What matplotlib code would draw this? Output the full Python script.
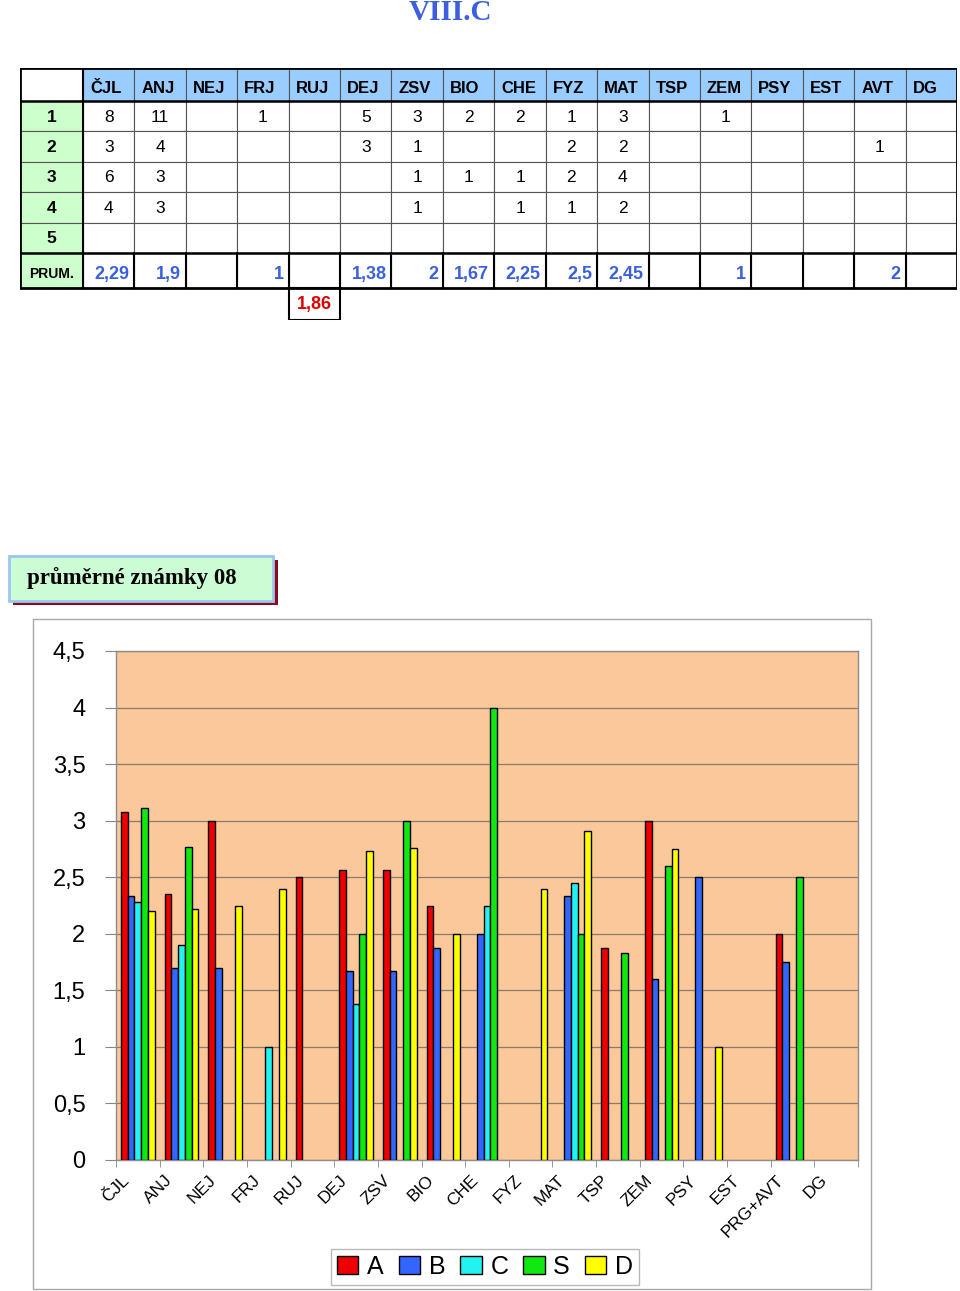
import numpy as np
import matplotlib.pyplot as plt
from matplotlib.patches import Rectangle
from matplotlib.transforms import ScaledTranslation

W, H = 960, 1291
plt.rcParams['font.family'] = ['Liberation Sans', 'DejaVu Sans']

# --- tabulka znamek ---
subjects = ['ČJL', 'ANJ', 'NEJ', 'FRJ', 'RUJ', 'DEJ', 'ZSV', 'BIO', 'CHE',
            'FYZ', 'MAT', 'TSP', 'ZEM', 'PSY', 'EST', 'AVT', 'DG']
grade_labels = ['1', '2', '3', '4', '5']
row1 = [8, 11, None, 1, None, 5, 3, 2, 2, 1, 3, None, 1, None, None, None, None]
row2 = [3, 4, None, None, None, 3, 1, None, None, 2, 2, None, None, None, None, 1, None]
row3 = [6, 3, None, None, None, None, 1, 1, 1, 2, 4, None, None, None, None, None, None]
row4 = [4, 3, None, None, None, None, 1, None, 1, 1, 2, None, None, None, None, None, None]
row5 = [None] * 17
prum = ['2,29', '1,9', '', '1', '', '1,38', '2', '1,67', '2,25', '2,5', '2,45',
        '', '1', '', '', '2', '']
total_avg = '1,86'

# --- graf prumernych znamek ---
categories = ['ČJL', 'ANJ', 'NEJ', 'FRJ', 'RUJ', 'DEJ', 'ZSV', 'BIO', 'CHE',
              'FYZ', 'MAT', 'TSP', 'ZEM', 'PSY', 'EST', 'PRG+AVT', 'DG']
nan = np.nan
avg_A = [3.08, 2.35, 3.0, nan, 2.5, 2.56, 2.56, 2.25, nan, nan, nan, 1.87, 3.0, nan, nan, 2.0, nan]
avg_B = [2.33, 1.7, 1.7, nan, nan, 1.67, 1.67, 1.87, 2.0, nan, 2.33, nan, 1.6, 2.5, nan, 1.75, nan]
avg_C = [2.28, 1.9, nan, 1.0, nan, 1.38, nan, nan, 2.25, nan, 2.45, nan, nan, nan, nan, nan, nan]
avg_S = [3.11, 2.77, nan, nan, nan, 2.0, 3.0, nan, 4.0, nan, 2.0, 1.83, 2.6, nan, nan, 2.5, nan]
avg_D = [2.2, 2.22, 2.25, 2.4, nan, 2.73, 2.76, 2.0, nan, 2.4, 2.91, nan, 2.75, 1.0, nan, nan, nan]
class_names = ['A', 'B', 'C', 'S', 'D']
class_colors = ['#ee0000', '#3366ff', '#22f2f2', '#11e811', '#ffff00']


def box(x0, y0, x1, y1):
    # pixely (odshora) -> souradnice figury
    return [x0 / W, 1 - y1 / H, (x1 - x0) / W, (y1 - y0) / H]


fig = plt.figure(figsize=(W / 100, H / 100), dpi=100)

fig.text(450 / W, 1 - 13 / H, 'VIII.C', ha='center', va='center', fontsize=21,
         fontweight='bold', color='#3a5fe0', family='Liberation Serif')

# tabulka
tax = fig.add_axes(box(20, 68, 957, 320))
tax.set_xlim(0, 937)
tax.set_ylim(252, 0)
tax.axis('off')

col_w = [63] + [874 / 17] * 17
col_x = np.concatenate([[0], np.cumsum(col_w)])
row_h = [33] + [30.4] * 5 + [35]
row_y = np.concatenate([[0], np.cumsum(row_h)])
body = [row1, row2, row3, row4, row5]
blue_txt = '#3a5fe0'

for r in range(len(row_h)):
    for c in range(len(col_w)):
        if r == 0 and c > 0:
            fc = '#99ccff'
        elif c == 0 and r > 0:
            fc = '#ccffcc'
        else:
            fc = 'white'
        tax.add_patch(Rectangle((col_x[c], row_y[r]), col_w[c], row_h[r],
                                fc=fc, ec='#555555', lw=0.8))
        yc = row_y[r] + row_h[r] / 2 + 1
        if r == 0 and c > 0:
            tax.text(col_x[c] + 7, yc + 3, subjects[c - 1], ha='left', va='center',
                     fontsize=12, fontweight='bold')
        elif c == 0 and 1 <= r <= 5:
            tax.text(col_x[c] + col_w[c] / 2, yc, grade_labels[r - 1], ha='center',
                     va='center', fontsize=12.5, fontweight='bold')
        elif c == 0 and r == 6:
            tax.text(col_x[c] + col_w[c] / 2, yc + 3, 'PRUM.', ha='center',
                     va='center', fontsize=10, fontweight='bold')
        elif 1 <= r <= 5:
            v = body[r - 1][c - 1]
            if v is not None:
                tax.text(col_x[c] + col_w[c] / 2, yc, str(v), ha='center',
                         va='center', fontsize=12.5)
        elif r == 6 and c > 0:
            tax.text(col_x[c + 1] - 5, yc + 3, prum[c - 1], ha='right', va='center',
                     fontsize=13, fontweight='bold', color=blue_txt)

# silnejsi ohraniceni
tax.add_patch(Rectangle((0, 0), col_x[-1], row_y[-1], fill=False, ec='black', lw=2))
tax.plot([0, col_x[-1]], [row_y[1], row_y[1]], color='black', lw=1.8)
tax.plot([0, col_x[-1]], [row_y[6], row_y[6]], color='black', lw=1.8)
tax.plot([col_x[1], col_x[1]], [0, row_y[-1]], color='black', lw=1.5)
for c in range(2, len(col_x) - 1):
    tax.plot([col_x[c], col_x[c]], [row_y[6], row_y[7]], color='black', lw=1.5)
ruj = subjects.index('RUJ') + 1
tax.add_patch(Rectangle((col_x[ruj], row_y[-1]), col_w[ruj], 32, fill=False,
                        ec='black', lw=1.5))
tax.text(col_x[ruj] + col_w[ruj] / 2, row_y[-1] + 17, total_avg, ha='center',
         va='center', fontsize=13, fontweight='bold', color='#dd0000')

# nadpis grafu v ramecku
fig.add_artist(Rectangle((13 / W, 1 - 605 / H), 265 / W, 45 / H,
                         transform=fig.transFigure, fc='#8b0a20', ec='none'))
fig.add_artist(Rectangle((9 / W, 1 - 601 / H), 264 / W, 45 / H,
                         transform=fig.transFigure, fc='#ccfcd4', ec='#9cc8f0', lw=2))
fig.text(27 / W, 1 - 578 / H, 'průměrné známky 08', ha='left', va='center',
         fontsize=16.5, fontweight='bold', family='Liberation Serif')

# ramecek grafu
fig.add_artist(Rectangle((33 / W, 1 - 1289 / H), 838 / W, 670 / H,
                         transform=fig.transFigure, fill=False, ec='#a8a8a8', lw=1))

ax = fig.add_axes(box(116, 651, 858, 1160))
ax.set_facecolor('#fbc899')
x = np.arange(len(categories))
bw = 0.154
handles = []
for i, (vals, name, col) in enumerate(zip([avg_A, avg_B, avg_C, avg_S, avg_D],
                                          class_names, class_colors)):
    vals = np.array(vals, dtype=float)
    ok = ~np.isnan(vals)
    b = ax.bar(x[ok] + 0.5 + (i - 2) * bw, vals[ok], width=bw, color=col,
               edgecolor='black', linewidth=1, zorder=3, label=name)
    handles.append(b)

ax.set_xlim(0, len(categories))
ax.set_ylim(0, 4.5)
yt = np.arange(0, 4.51, 0.5)
ax.set_yticks(yt)
ax.set_yticklabels([('%g' % v).replace('.', ',') for v in yt], fontsize=17)
ax.yaxis.grid(True, color='#8c7a6a', lw=0.9, zorder=0)
ax.set_axisbelow(True)
ax.tick_params(axis='y', direction='out', length=8, color='#888888', pad=14)
ax.set_xticks(x + 0.5)
ax.set_xticklabels(categories, rotation=45, ha='right', va='top',
                   rotation_mode='anchor', fontsize=12.5)
ax.tick_params(axis='x', length=0, pad=9)
shift = ScaledTranslation(-12 / 72, 0, fig.dpi_scale_trans)
for lab in ax.get_xticklabels():
    lab.set_transform(lab.get_transform() + shift)
ax.set_xticks(np.arange(len(categories) + 1), minor=True)
ax.tick_params(axis='x', which='minor', direction='out', length=5, color='#888888')
for s in ax.spines.values():
    s.set_color('#8c8c8c')
    s.set_linewidth(1)

fig.legend(handles=handles, labels=class_names, loc='center',
           bbox_to_anchor=(485 / W, 1 - 1267 / H), ncol=5, frameon=True,
           fancybox=False, edgecolor='#a8a8a8', fontsize=18, handlelength=0.85,
           handleheight=0.75, handletextpad=0.35, columnspacing=0.6, borderpad=0.25)

fig.savefig('out.png', dpi=100)
